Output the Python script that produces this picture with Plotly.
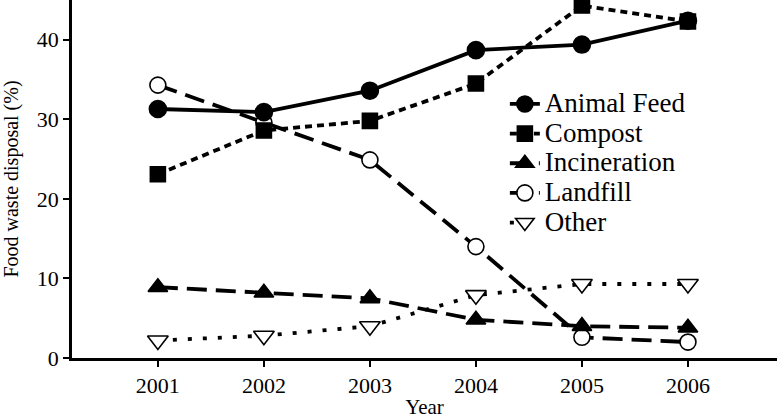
import plotly.graph_objects as go

years = [2001, 2002, 2003, 2004, 2005, 2006]
animal_feed = [31.3, 30.9, 33.6, 38.7, 39.4, 42.4]
compost = [23.1, 28.6, 29.8, 34.5, 44.3, 42.3]
incineration = [8.9, 8.2, 7.5, 4.8, 4.0, 3.8]
landfill = [34.3, 29.6, 24.9, 14.0, 2.6, 2.0]
other = [2.2, 2.8, 4.0, 7.9, 9.3, 9.3]

FONT = "Liberation Serif"

# (name, values, symbol, dash, size, fill, legend rank); drawn in list order
series = [
    ("Landfill", landfill, "circle", "20px,9px", 16, "white", 4),
    ("Other", other, "triangle-down", "4px,11px", 18, "white", 5),
    ("Incineration", incineration, "triangle-up", "20px,9px", 17, "black", 3),
    ("Compost", compost, "square", "7px,5px", 15, "black", 2),
    ("Animal Feed", animal_feed, "circle", "solid", 17, "black", 1),
]

fig = go.Figure()
for name, vals, sym, dash, size, fill, rank in series:
    fig.add_trace(go.Scatter(
        x=years, y=vals, name=f"<span style='font-size:27px'>{name}</span>",
        mode="lines+markers", legendrank=rank,
        line=dict(color="black", width=3.8, dash=dash),
        marker=dict(symbol=sym, size=size, color=fill,
                    line=dict(color="black", width=1.6)),
    ))

fig.update_layout(
    width=777, height=419,
    margin=dict(l=72, r=0, t=0, b=61, autoexpand=False),
    paper_bgcolor="white", plot_bgcolor="white",
    font=dict(family=FONT, color="black", size=22),
    showlegend=True,
    legend=dict(x=0.614, y=0.765, xanchor="left", yanchor="top",
                font=dict(size=20.5, family=FONT), bgcolor="rgba(0,0,0,0)",
                tracegroupgap=0, itemwidth=30, traceorder="normal"),
    xaxis=dict(range=[2000.19, 2006.84], tickvals=years, ticktext=[str(y) for y in years],
               showgrid=False, zeroline=False, showline=True, linecolor="black", linewidth=2.5,
               ticks="outside", ticklen=6, tickcolor="black", tickwidth=1.5, automargin=False,
               tickfont=dict(size=22),
               title=dict(text="Year", font=dict(size=21), standoff=12)),
    yaxis=dict(range=[0, 45], tickvals=[0, 10, 20, 30, 40],
               showgrid=False, zeroline=False, showline=True, linecolor="black", linewidth=2.5,
               ticks="outside", ticklen=6, tickcolor="black", tickwidth=1.5, automargin=False,
               tickfont=dict(size=22),
               title=dict(text="Food waste disposal (%)", font=dict(size=20), standoff=14)),
)

fig.write_html("out.html", config={"displayModeBar": False})

# remove the browser's default page margin so the figure sits at the window origin
with open("out.html", "r", encoding="utf-8") as f:
    html = f.read()
html = html.replace("<body>", "<body style=\"margin:0\">", 1)
with open("out.html", "w", encoding="utf-8") as f:
    f.write(html)
